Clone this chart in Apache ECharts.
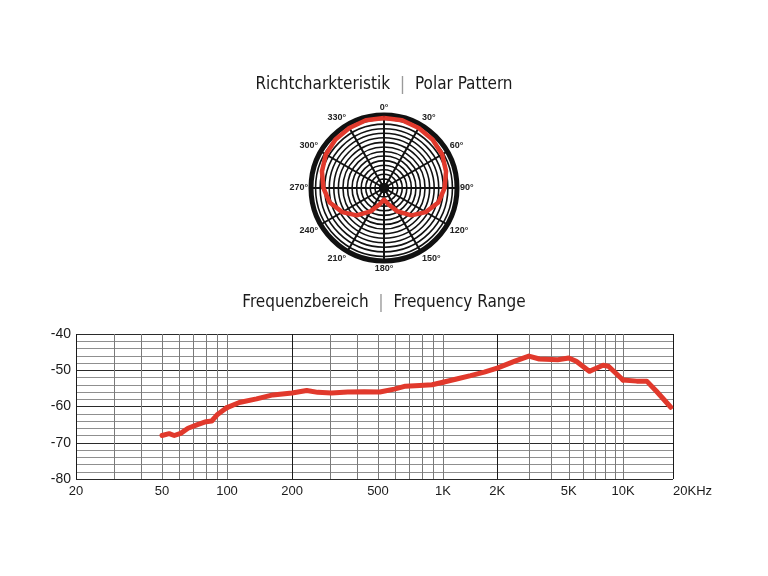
<!DOCTYPE html>
<html>
<head>
<meta charset="utf-8">
<script src="https://cdn.jsdelivr.net/npm/echarts@6/dist/echarts.min.js"></script>
<style>html,body{margin:0;padding:0;background:#fff}#c{width:768px;height:576px}</style>
</head>
<body>
<div id="c"></div>
<script>
// ---- Polar pattern (relative level, 0..1) ----
const polarAngles = [0,15,30,45,60,75,90,105,120,135,150,165,180,195,210,225,240,255,270,285,300,315,330,345,360];
const polarLevels = [0.96,0.96,0.95,0.94,0.92,0.88,0.83,0.77,0.66,0.53,0.37,0.23,0.16,0.23,0.37,0.53,0.66,0.77,0.83,0.88,0.92,0.94,0.95,0.96,0.96];

// ---- Frequency response ----
const freqHz = [50,54,57,61,66,73,80,85,90,100,114,137,163,200,234,263,305,362,432,510,595,670,780,890,1000,1190,1424,1694,2000,2510,3000,3430,4340,5000,5500,6500,7000,7750,8300,10000,12090,13900,15900,19400];
const levelDb = [-68.0,-67.5,-68.0,-67.4,-66.0,-65.0,-64.2,-64.0,-62.3,-60.3,-58.9,-57.9,-56.8,-56.3,-55.6,-56.1,-56.3,-56.0,-55.9,-56.0,-55.2,-54.4,-54.2,-54.0,-53.3,-52.4,-51.5,-50.5,-49.4,-47.5,-46.1,-46.9,-47.1,-46.6,-47.5,-50.3,-49.6,-48.6,-48.9,-52.7,-53.0,-53.0,-55.8,-60.2];

const freqLabelValues = [20,50,100,200,500,1000,2000,5000,10000,20000];
const freqLabelText = ['20','50','100','200','500','1K','2K','5K','10K','20KHz'];
const freqGridValues = [20,30,40,50,60,70,80,90,100,200,300,400,500,600,700,800,900,1000,2000,3000,4000,5000,6000,7000,8000,9000,10000,20000];
const freqStrongLines = [20,200,2000,20000];
const dbMin = -80, dbMax = -40;

const titleTop = 'Richtcharkteristik';
const titleTopEn = 'Polar Pattern';
const titleBottom = 'Frequenzbereich';
const titleBottomEn = 'Frequency Range';

const RED = '#e1392c';
const FONT = "'Liberation Sans', Arial, sans-serif";
const NARROW = "'Liberation Sans Narrow', 'DejaVu Sans Condensed', 'Liberation Sans', sans-serif";

// the printed frequency scale is drawn in decade segments of different widths
const segments = [
  {min:20, max:100, left:76, width:151},
  {min:100, max:1000, left:227, width:216},
  {min:1000, max:10000, left:443, width:180},
  {min:10000, max:20000, left:623, width:50}
];

function labelFor(v){
  const k = freqLabelValues.findIndex(f => Math.abs(f - v) / f < 1e-6);
  return k >= 0 ? freqLabelText[k] : '';
}

const pairs = freqHz.map((f, i) => [f, levelDb[i]]);

const grids = segments.map(s => ({left:s.left, width:s.width, top:334, height:145}));
const xAxes = segments.map((s, i) => {
  const ticks = freqGridValues.filter(f => f >= s.min && f <= s.max);
  const labs = freqLabelValues.filter(f => (f > s.min || (i === 0 && f === s.min)) && f <= s.max);
  return {
    type:'log', logBase:10, gridIndex:i, min:s.min, max:s.max,
    axisLine:{show:false},
    axisTick:{show:false, customValues:ticks},
    axisLabel:{customValues:labs, formatter:labelFor, fontSize:13, color:'#1a1a1a', fontFamily:FONT,
               margin:6, align: i === 3 ? 'left' : 'center', showMinLabel:true, showMaxLabel:true},
    splitLine:{show:true, lineStyle:{width:1, color: ticks.map(f => freqStrongLines.includes(f) ? '#1a1a1a' : '#7a7a7a')}}
  };
});
const yAxes = segments.map((s, i) => ({
  type:'value', gridIndex:i, min:dbMin, max:dbMax, interval:10,
  axisLine:{show:false}, axisTick:{show:false},
  axisLabel:{show:i === 0, fontSize:14, color:'#1a1a1a', fontFamily:FONT, margin:5},
  splitLine:{show:true, lineStyle:{color:'#2a2a2a', width:1}},
  minorTick:{show:false, splitNumber:5},
  minorSplitLine:{show:true, lineStyle:{color:'#8f8f8f', width:1}}
}));
const freqSeries = segments.map((s, i) => ({
  type:'line', xAxisIndex:i, yAxisIndex:i, clip:false, symbol:'none', silent:true,
  data: pairs.filter(p => p[0] >= s.min && p[0] <= s.max),
  lineStyle:{color:RED, width:5, cap:'round', join:'round'}
}));

const ringBands = 16;
const chart = echarts.init(document.getElementById('c'));
chart.setOption({
  animation:false,
  backgroundColor:'#fff',
  title:[
    {text: titleTop + '  {s||}  ' + titleTopEn, left:'center', top:71,
     textStyle:{fontFamily:NARROW, fontSize:17, fontWeight:'normal', color:'#1a1a1a',
       rich:{s:{color:'#9a9a9a', fontSize:18, fontFamily:NARROW}}}},
    {text: titleBottom + '  {s||}  ' + titleBottomEn, left:'center', top:289,
     textStyle:{fontFamily:NARROW, fontSize:17, fontWeight:'normal', color:'#1a1a1a',
       rich:{s:{color:'#9a9a9a', fontSize:18, fontFamily:NARROW}}}}
  ],
  polar:{center:[384,188], radius:73},
  angleAxis:{
    type:'value', min:0, max:360, interval:30, startAngle:90, clockwise:true,
    axisLine:{lineStyle:{color:'#111', width:5}},
    axisTick:{show:false},
    axisLabel:{formatter:'{value}°', fontSize:9, fontWeight:'bold', color:'#222', fontFamily:FONT, margin:3},
    splitLine:{show:true, lineStyle:{color:'#111', width:2}}
  },
  radiusAxis:{
    type:'value', min:0, max:1, interval:1/ringBands,
    axisLine:{show:false}, axisTick:{show:false}, axisLabel:{show:false},
    splitLine:{show:true, lineStyle:{color:'#111', width:1.6}},
    splitArea:{show:true, areaStyle:{color:['#111'].concat(new Array(ringBands - 1).fill('rgba(0,0,0,0)'))}}
  },
  grid:grids,
  xAxis:xAxes,
  yAxis:yAxes,
  series:[
    {type:'line', coordinateSystem:'polar', symbol:'none', silent:true, clip:false,
     data: polarAngles.map((a, k) => [polarLevels[k], a]),
     lineStyle:{color:RED, width:4.5, join:'round'}}
  ].concat(freqSeries)
});
</script>
</body>
</html>
